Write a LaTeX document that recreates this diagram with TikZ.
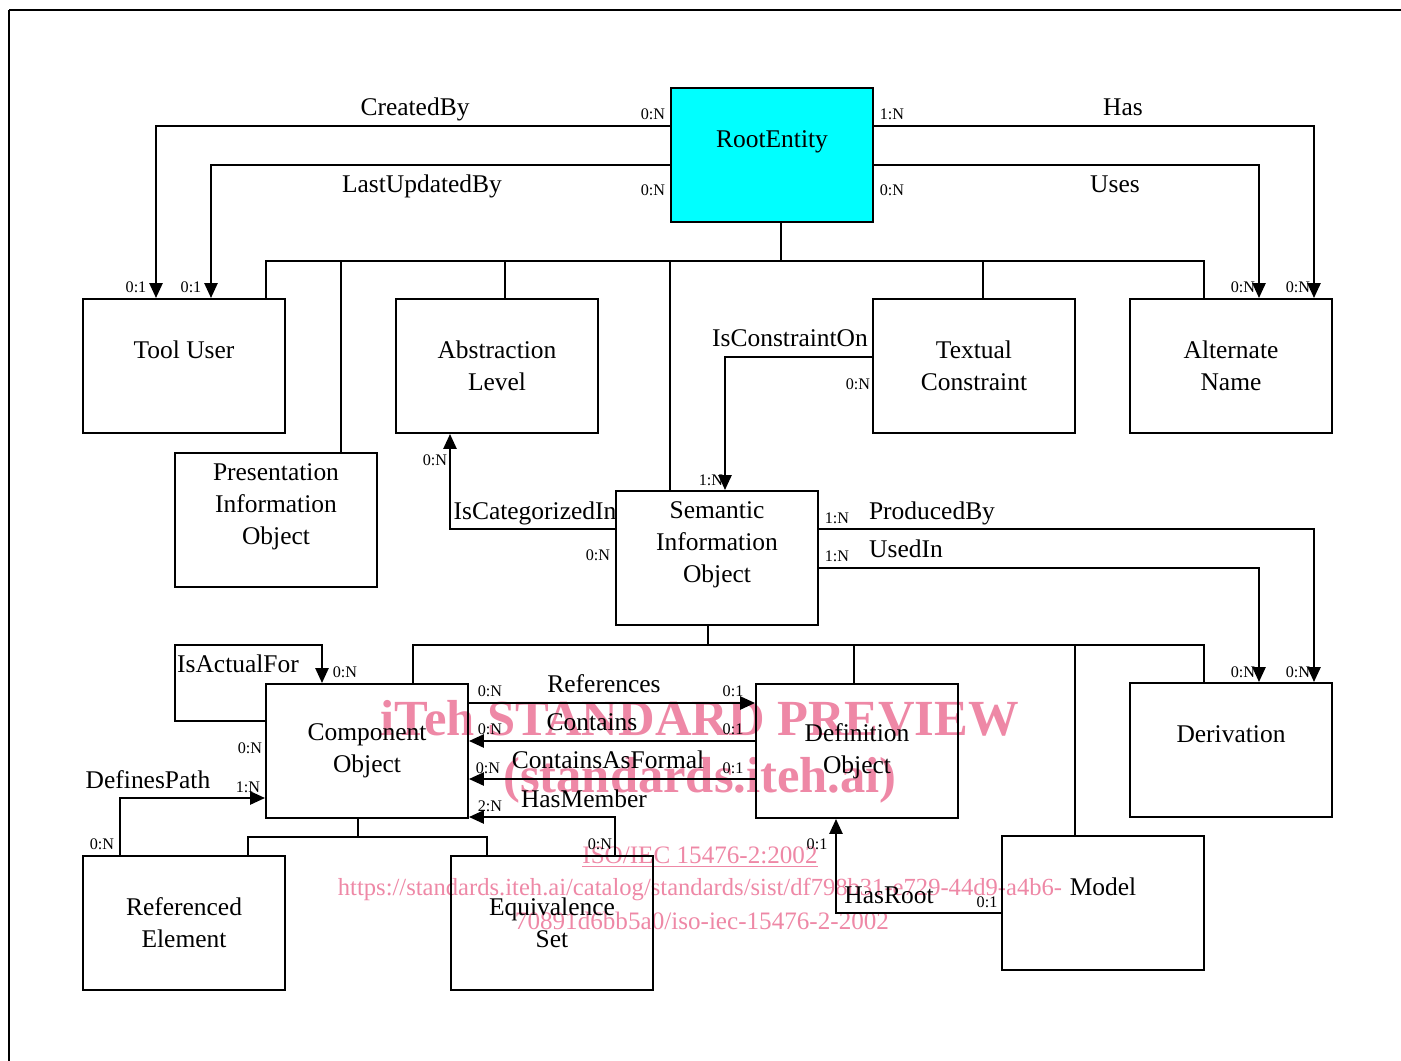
\documentclass[tikz,border=0pt]{standalone}
\usepackage{fontspec}
\setmainfont{Liberation Serif}
\usepackage{xcolor}
\usetikzlibrary{arrows.meta}
\definecolor{rootcyan}{RGB}{0,255,255}
\definecolor{wmpink}{RGB}{238,136,166}
\tikzset{
  ent/.style={draw,minimum width=4.04cm,minimum height=2.68cm,inner sep=0pt,align=center,
    font=\fontsize{14.5}{18.1}\selectfont},
  rel/.style={inner sep=0pt,text height=9.6pt,text depth=0pt,font=\fontsize{14.5}{18.1}\selectfont},
  card/.style={inner sep=0pt,text height=6.1pt,text depth=0pt,font=\fontsize{9.2}{11}\selectfont},
  arr/.style={-{Triangle[width=7.5pt,length=8.5pt]}},
  wm/.style={inner sep=0pt,text=wmpink}
}
\begin{document}
\begin{tikzpicture}[x=0.02cm,y=0.02cm,line width=1.15pt]
  \useasboundingbox (0,0) rectangle (1401,-1061);
  \node[wm,font=\fontsize{28.8}{30}\selectfont\bfseries] (wm1) at (700,-718) {iTeh STANDARD PREVIEW};
  \node[wm,font=\fontsize{28.8}{30}\selectfont\bfseries] (wm2) at (700,-780) {(standards.iteh.ai)};
  \node[wm,font=\fontsize{14.3}{16}\selectfont] (wm3) at (700,-857) {\underline{ISO/IEC 15476-2:2002}};
  \node[wm,font=\fontsize{14}{16}\selectfont] (wm4) at (700,-889) {https://standards.iteh.ai/catalog/standards/sist/df798b31-e729-44d9-a4b6-};
  \node[wm,font=\fontsize{14.3}{16}\selectfont] (wm5) at (702,-921) {70891d6bb5a0/iso-iec-15476-2-2002};

  \draw[line width=1.7pt] (9,-10) -- (1401,-10);
  \draw (9,-10) -- (9,-1061);

  \node[ent,fill=rootcyan] (root) at (772,-155) {RootEntity\\\mbox{}};
  \node[ent] (tool) at (184,-366) {Tool User\\\mbox{}};
  \node[ent] (abs) at (497,-366) {Abstraction\\Level};
  \node[ent] (txt) at (974,-366) {Textual\\Constraint};
  \node[ent] (alt) at (1231,-366) {Alternate\\Name};
  \node[ent] (pres) at (276,-520) {Presentation\\Information\\Object\\\mbox{}};
  \node[ent] (sem) at (717,-558) {Semantic\\Information\\Object\\\mbox{}};
  \node[ent] (comp) at (367,-751) {Component\\Object};
  \node[ent] (def) at (857,-751) {Definition\\Object};
  \node[ent] (deriv) at (1231,-750) {Derivation\\\mbox{}};
  \node[ent] (model) at (1103,-903) {Model\\\mbox{}};
  \node[ent] (ref) at (184,-923) {Referenced\\Element};
  \node[ent] (eqv) at (552,-923) {Equivalence\\Set};

  \draw (root.south -| 781,0) -- (781,-261);
  \draw (tool.north -| 266,0) |- (1204,-261) -- (alt.north -| 1204,0);
  \draw (341,-261) -- (pres.north -| 341,0);
  \draw (505,-261) -- (abs.north -| 505,0);
  \draw (670,-261) -- (sem.north -| 670,0);
  \draw (983,-261) -- (txt.north -| 983,0);

  \draw (sem.south -| 708,0) -- (708,-645);
  \draw (comp.north -| 413,0) |- (1204,-645) -- (deriv.north -| 1204,0);
  \draw (854,-645) -- (def.north -| 854,0);
  \draw (1075,-645) -- (model.north -| 1075,0);

  \draw (comp.south -| 358,0) -- (358,-837);
  \draw (ref.north -| 248,0) |- (487,-837) -- (eqv.north -| 487,0);

  \draw[arr] (root.west |- 0,-126) -| (tool.north -| 156,0);
  \draw[arr] (root.west |- 0,-165) -| (tool.north -| 211,0);
  \draw[arr] (root.east |- 0,-126) -| (alt.north -| 1314,0);
  \draw[arr] (root.east |- 0,-165) -| (alt.north -| 1259,0);
  \draw[arr] (txt.west |- 0,-357) -| (sem.north -| 725,0);
  \draw[arr] (sem.west |- 0,-529) -| (abs.south -| 450,0);
  \draw[arr] (sem.east |- 0,-529) -| (deriv.north -| 1314,0);
  \draw[arr] (sem.east |- 0,-568) -| (deriv.north -| 1259,0);
  \draw[arr] (comp.west |- 0,-721) -- (175,-721) -- (175,-645) -| (comp.north -| 322,0);
  \draw[arr] (comp.east |- 0,-703) -- (def.west |- 0,-703);
  \draw[arr] (def.west |- 0,-741) -- (comp.east |- 0,-741);
  \draw[arr] (def.west |- 0,-779) -- (comp.east |- 0,-779);
  \draw[arr] (eqv.north -| 615,0) |- (comp.east |- 0,-817);
  \draw[arr] (ref.north -| 120,0) |- (comp.west |- 0,-798);
  \draw[arr] (model.west |- 0,-913) -| (def.south -| 836,0);

  \node[rel] (createdby) at (415,-107) {CreatedBy};
  \node[rel] (lastupd) at (422,-184) {LastUpdatedBy};
  \node[rel] (has) at (1123,-107) {Has};
  \node[rel] (uses) at (1115,-184) {Uses};
  \node[rel] (constr) at (790,-338) {IsConstraintOn};
  \node[rel] (categ) at (535,-511) {IsCategorizedIn};
  \node[rel] (produced) at (932,-511) {ProducedBy};
  \node[rel] (usedin) at (906,-549) {UsedIn};
  \node[rel] (actual) at (238,-664) {IsActualFor};
  \node[rel] (defpath) at (148,-780) {DefinesPath};
  \node[rel] (refs) at (604,-684) {References};
  \node[rel] (contains) at (592,-722) {Contains};
  \node[rel] (formal) at (608,-760) {ContainsAsFormal};
  \node[rel] (member) at (584,-799) {HasMember};
  \node[rel] (hasroot) at (889,-895) {HasRoot};

  \node[card] (c1) at (653,-114) {0:N};
  \node[card] (c2) at (653,-190) {0:N};
  \node[card] (c3) at (136,-287) {0:1};
  \node[card] (c4) at (191,-287) {0:1};
  \node[card] (c5) at (892,-114) {1:N};
  \node[card] (c6) at (892,-190) {0:N};
  \node[card] (c7) at (1243,-287) {0:N};
  \node[card] (c8) at (1298,-287) {0:N};
  \node[card] (c9) at (858,-384) {0:N};
  \node[card] (c10) at (711,-480) {1:N};
  \node[card] (c11) at (435,-460) {0:N};
  \node[card] (c12) at (598,-555) {0:N};
  \node[card] (c13) at (837,-518) {1:N};
  \node[card] (c14) at (837,-556) {1:N};
  \node[card] (c15) at (1243,-672) {0:N};
  \node[card] (c16) at (1298,-672) {0:N};
  \node[card] (c17) at (345,-672) {0:N};
  \node[card] (c18) at (250,-748) {0:N};
  \node[card] (c19) at (248,-787) {1:N};
  \node[card] (c20) at (102,-844) {0:N};
  \node[card] (c21) at (490,-691) {0:N};
  \node[card] (c22) at (733,-691) {0:1};
  \node[card] (c23) at (490,-729) {0:N};
  \node[card] (c24) at (733,-729) {0:1};
  \node[card] (c25) at (488,-768) {0:N};
  \node[card] (c26) at (733,-768) {0:1};
  \node[card] (c27) at (490,-806) {2:N};
  \node[card] (c28) at (600,-844) {0:N};
  \node[card] (c29) at (817,-844) {0:1};
  \node[card] (c30) at (987,-902) {0:1};
\end{tikzpicture}
\end{document}
